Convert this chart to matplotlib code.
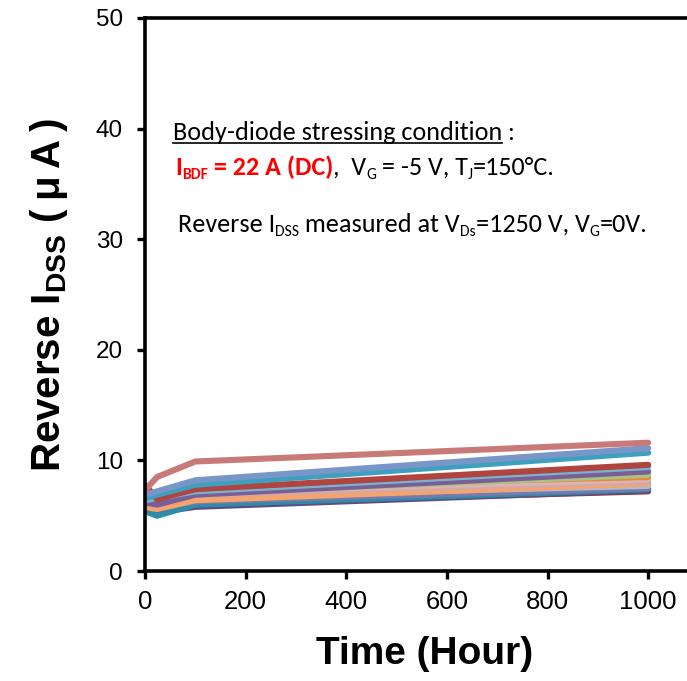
import numpy as np
import matplotlib
matplotlib.use('Agg')
import matplotlib.pyplot as plt
from matplotlib import font_manager
from matplotlib.font_manager import FontProperties
from matplotlib.transforms import ScaledTranslation

# ============================================================
# DATA: reverse IDSS (uA) of each device vs stress time (hour)
# ============================================================
hours = [0, 24, 100, 1000]

s01 = [5.7, 5.5, 6.1, 7.2]
s02 = [5.6, 5.3, 5.8, 7.3]
s03 = [5.4, 5.0, 6.0, 7.4]
s04 = [5.9, 5.7, 6.3, 7.5]
s05 = [6.3, 6.2, 6.7, 7.7]
s06 = [5.8, 5.6, 6.4, 7.9]
s07 = [6.5, 6.4, 6.9, 8.1]
s08 = [6.7, 6.6, 7.1, 8.3]
s09 = [6.5, 6.4, 7.5, 8.5]
s10 = [6.3, 6.2, 7.0, 8.7]
s11 = [6.2, 6.0, 6.9, 9.0]
s12 = [6.4, 6.6, 7.2, 9.4]
s13 = [7.8, 6.5, 7.4, 9.6]
s14 = [6.6, 6.9, 7.8, 10.7]
s15 = [6.9, 7.2, 8.2, 11.1]
s16 = [7.3, 8.5, 9.9, 11.6]

series = [s01, s02, s03, s04, s05, s06, s07, s08,
          s09, s10, s11, s12, s13, s14, s15, s16]
colors = ['#953735', '#5E4B82', '#2F8CA8', '#7A7AAE', '#A9BCD8', '#F4A46C',
          '#D4A8A8', '#DDB3B3', '#E8883A', '#A9C27E', '#7A5E96', '#78B4CF',
          '#B0443F', '#3DA0BE', '#7896C8', '#C87A78']

x_ticks = [0, 200, 400, 600, 800, 1000]
y_ticks = [0, 10, 20, 30, 40, 50]

# ============================================================
# FONTS
# ============================================================
names = {f.name for f in font_manager.fontManager.ttflist}
if 'Carlito' in names:
    note_font, note_size = 'Carlito', 18.8
else:
    note_font, note_size = 'Lato', 16.8

plt.rcParams['font.family'] = ['Liberation Sans', 'DejaVu Sans']
plt.rcParams['mathtext.fontset'] = 'custom'
plt.rcParams['mathtext.rm'] = 'Liberation Sans'
plt.rcParams['mathtext.bf'] = 'Liberation Sans:bold'

fig = plt.figure(figsize=(6.87, 6.81), dpi=100)
ax = fig.add_axes([145 / 687, 110 / 681, 553.5 / 687, 553 / 681])

for vals, c in zip(series, colors):
    ax.plot(hours, vals, color=c, linewidth=4.4, solid_capstyle='round',
            solid_joinstyle='round')

ax.set_xlim(0, 1100)
ax.set_ylim(0, 50)
ax.set_xticks(x_ticks)
ax.set_yticks(y_ticks)
ax.tick_params(axis='x', direction='out', length=6, width=2.4, labelsize=18.5, pad=8)
ax.tick_params(axis='y', direction='out', length=6, width=2.4, labelsize=17.5, pad=10)
for sp in ax.spines.values():
    sp.set_linewidth(2.6)

ax.set_xlabel('Time (Hour)', fontsize=28, fontweight='bold')
ax.xaxis.set_label_coords(0.505, -0.117)
ax.set_ylabel('Reverse I$_{\\mathbf{DSS}}$ (\u2009μ\u2009A\u2009)', fontsize=29,
              fontweight='bold')
ax.yaxis.set_label_coords(-0.135, 0.5)

# ============================================================
# ANNOTATION TEXT (runs with subscripts)
# ============================================================
renderer = fig.canvas.get_renderer()


def run_width(s, fp):
    w_full = renderer.get_text_width_height_descent('|' + s + '|', fp, ismath=False)[0]
    w_bars = renderer.get_text_width_height_descent('||', fp, ismath=False)[0]
    return (w_full - w_bars) * 72 / fig.dpi


def draw_runs(x, y, runs, size):
    off = 0.0
    widths = []
    for s, color, weight, sub in runs:
        fs = size * 0.6 if sub else size
        dy = -0.15 * size if sub else 0.0
        tr = ax.transData + ScaledTranslation(off / 72, dy / 72, fig.dpi_scale_trans)
        ax.text(x, y, s, transform=tr, fontsize=fs, color=color, fontweight=weight,
                family=note_font, va='baseline', ha='left')
        w = run_width(s, FontProperties(family=note_font, weight=weight, size=fs))
        widths.append(w)
        off += w
    return widths


k, r = 'black', '#FF0000'
row1 = [('Body-diode stressing condition', k, 'normal', False),
        (' :', k, 'normal', False)]
row2 = [('I', r, 'bold', False), ('BDF', r, 'bold', True),
        (' = 22 A (DC)', r, 'bold', False), (',  V', k, 'normal', False),
        ('G', k, 'normal', True), (' = -5 V, T', k, 'normal', False),
        ('J', k, 'normal', True), ('=150°C.', k, 'normal', False)]
row3 = [('Reverse I', k, 'normal', False), ('DSS', k, 'normal', True),
        (' measured at V', k, 'normal', False), ('Ds', k, 'normal', True),
        ('=1250 V, V', k, 'normal', False), ('G', k, 'normal', True),
        ('=0V.', k, 'normal', False)]

x1, y1 = 55.7, 38.97
w1 = draw_runs(x1, y1, row1, note_size)
draw_runs(59.6, 35.8, row2, note_size)
draw_runs(65.6, 30.68, row3, note_size)

# underline of the first row
p0 = ax.transData.transform((x1, y1))
p1 = p0 + np.array([w1[0] * fig.dpi / 72, 0])
d0 = ax.transData.inverted().transform(p0 - np.array([0, 3]))
d1 = ax.transData.inverted().transform(p1 - np.array([0, 3]))
ax.plot([d0[0], d1[0]], [d0[1], d1[1]], color='black', linewidth=1.2)

plt.savefig('out.png', dpi=100)
plt.close()
